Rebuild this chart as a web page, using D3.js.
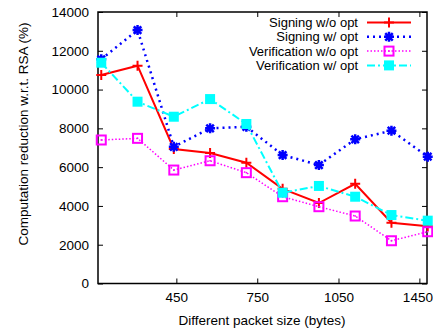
<!DOCTYPE html>
<html>
<head>
<meta charset="utf-8">
<script src="https://cdn.jsdelivr.net/npm/d3@7"></script>
<style>
  body { margin: 0; background: #fff; }
  text { font-family: 'Liberation Sans', Arial, sans-serif; }
</style>
</head>
<body>
<div id="chart"></div>
<script>
// packet size index (10 measurement points)
const points = [0, 1, 2, 3, 4, 5, 6, 7, 8, 9];
const xTickPos = [2.07, 4.3, 6.54, 8.77];
const xTickLabels = ['450', '750', '1050', '1450'];
const yTicks = [0, 2000, 4000, 6000, 8000, 10000, 12000, 14000];

const signingNoOpt = [10750, 11230, 6935, 6730, 6230, 4880, 4150, 5140, 3135, 2950];
const signingOpt = [11560, 13070, 7050, 8000, 8080, 6625, 6110, 7435, 7880, 6540];
const verifNoOpt = [7400, 7485, 5850, 6330, 5715, 4475, 3960, 3480, 2205, 2670];
const verifOpt = [11385, 9375, 8600, 9510, 8225, 4680, 5030, 4475, 3530, 3240];

const seriesNames = ['Signing w/o opt', 'Signing w/ opt', 'Verification w/o opt', 'Verification w/ opt'];

const series = [
  { name: seriesNames[0], values: signingNoOpt, color: '#ff0000', width: 2, dash: null, marker: 'plus' },
  { name: seriesNames[1], values: signingOpt, color: '#0000ff', width: 2.5, dash: '2,4', marker: 'star' },
  { name: seriesNames[2], values: verifNoOpt, color: '#ff00ff', width: 1.5, dash: '1.5,2', marker: 'openSquare' },
  { name: seriesNames[3], values: verifOpt, color: '#00ffff', width: 2, dash: '8,3,2,3', marker: 'square' },
];

const margin = { left: 98, right: 6, top: 12, bottom: 44.5 };
const W = 433, H = 328;
const width = W - margin.left - margin.right;
const height = H - margin.top - margin.bottom;
const fontSize = '13.5px';

const svg = d3.select('#chart').append('svg')
  .attr('width', W)
  .attr('height', H);

const g = svg.append('g')
  .attr('transform', `translate(${margin.left},${margin.top})`);

const x = d3.scaleLinear().domain([-0.09, 8.98]).range([0, width]);
const y = d3.scaleLinear().domain([0, 14000]).range([height, 0]);

// Axes (gnuplot style: inward ticks, mirrored)
const axisStyle = sel => {
  sel.select('.domain').remove();
  sel.selectAll('line').attr('stroke', '#000').attr('stroke-width', 1);
  sel.selectAll('text').style('font-size', fontSize).attr('fill', '#000');
};

const xAxisGroup = g.append('g')
  .attr('transform', `translate(0,${height})`)
  .call(d3.axisBottom(x).tickValues(xTickPos).tickFormat((d, i) => xTickLabels[i]).tickSizeInner(-5).tickPadding(9))
  .call(axisStyle);
// last label sits at the page edge; nudge it in a little
xAxisGroup.selectAll('.tick:last-of-type text').attr('dx', -2);

g.append('g')
  .call(d3.axisTop(x).tickValues(xTickPos).tickFormat('').tickSizeInner(-5))
  .call(axisStyle);
g.append('g')
  .call(d3.axisLeft(y).tickValues(yTicks).tickFormat(d3.format('d')).tickSizeInner(-5).tickPadding(9))
  .call(axisStyle);
g.append('g')
  .attr('transform', `translate(${width},0)`)
  .call(d3.axisRight(y).tickValues(yTicks).tickFormat('').tickSizeInner(-5))
  .call(axisStyle);

g.append('rect')
  .attr('width', width)
  .attr('height', height)
  .attr('fill', 'none')
  .attr('stroke', '#000')
  .attr('stroke-width', 1.5);

// Labels
svg.append('text')
  .attr('x', 262)
  .attr('y', 325)
  .attr('text-anchor', 'middle')
  .style('font-size', fontSize)
  .text('Different packet size (bytes)');
svg.append('text')
  .attr('transform', 'translate(28,134) rotate(-90)')
  .attr('text-anchor', 'middle')
  .style('font-size', fontSize)
  .text('Computation reduction w.r.t. RSA (%)');

const drawMarker = (sel, type, color, cx, cy) => {
  const s = 5;
  if (type === 'plus') {
    sel.append('path')
      .attr('d', `M${cx - s},${cy}H${cx + s}M${cx},${cy - s}V${cy + s}`)
      .attr('stroke', color).attr('stroke-width', 2);
  } else if (type === 'star') {
    sel.append('path')
      .attr('d', `M${cx - s},${cy}H${cx + s}M${cx},${cy - s}V${cy + s}` +
        `M${cx - s * 0.75},${cy - s * 0.75}L${cx + s * 0.75},${cy + s * 0.75}` +
        `M${cx - s * 0.75},${cy + s * 0.75}L${cx + s * 0.75},${cy - s * 0.75}`)
      .attr('stroke', color).attr('stroke-width', 2.5);
  } else if (type === 'openSquare') {
    sel.append('rect')
      .attr('x', cx - 4.5).attr('y', cy - 4.5)
      .attr('width', 9).attr('height', 9)
      .attr('fill', 'none').attr('stroke', color).attr('stroke-width', 2);
    sel.append('rect')
      .attr('x', cx - 0.75).attr('y', cy - 0.75)
      .attr('width', 1.5).attr('height', 1.5)
      .attr('fill', color);
  } else {
    sel.append('rect')
      .attr('x', cx - 5).attr('y', cy - 5)
      .attr('width', 10).attr('height', 10)
      .attr('fill', color);
  }
};

const line = d3.line()
  .x((d, i) => x(points[i]))
  .y(d => y(d));

series.forEach(s => {
  g.append('path')
    .datum(s.values)
    .attr('d', line)
    .attr('fill', 'none')
    .attr('stroke', s.color)
    .attr('stroke-width', s.width)
    .attr('stroke-dasharray', s.dash);
  const mg = g.append('g');
  s.values.forEach((v, i) => drawMarker(mg, s.marker, s.color, x(points[i]), y(v)));
});

// Legend
const legend = svg.append('g');
series.forEach((s, i) => {
  const ly = 22.5 + i * 14.3;
  legend.append('text')
    .attr('x', 358)
    .attr('y', ly + 4.5)
    .attr('text-anchor', 'end')
    .style('font-size', '13px')
    .text(s.name);
  legend.append('line')
    .attr('x1', 367).attr('x2', 411)
    .attr('y1', ly).attr('y2', ly)
    .attr('stroke', s.color)
    .attr('stroke-width', s.width)
    .attr('stroke-dasharray', s.dash);
  drawMarker(legend, s.marker, s.color, 389, ly);
});
</script>
</body>
</html>
